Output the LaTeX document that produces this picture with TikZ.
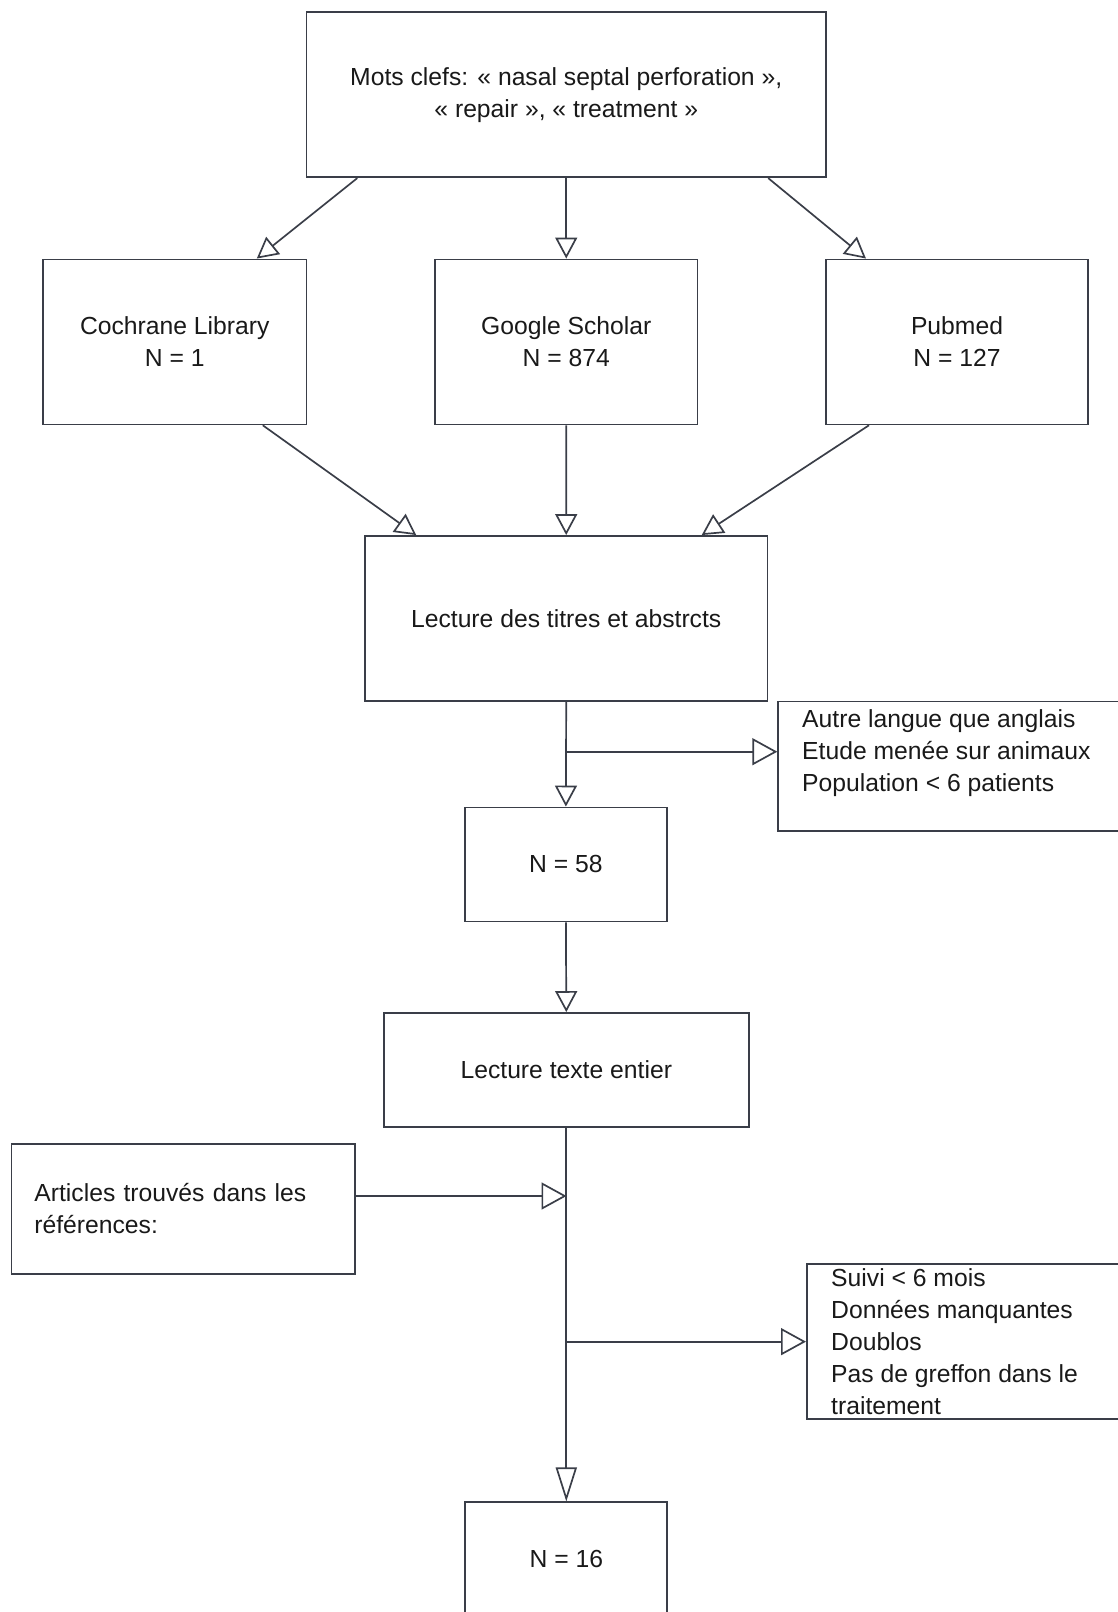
\documentclass[tikz,border=0pt]{standalone}
\usepackage{fontspec}
\setmainfont{Liberation Sans}
\usepackage{tikz}
\usetikzlibrary{positioning,arrows.meta}
\definecolor{linecolor}{RGB}{58,62,72}
\definecolor{textcolor}{RGB}{25,25,25}
\tikzset{
    box/.style={rectangle, draw=linecolor, line width=1.7pt, inner sep=0pt, align=center, text=textcolor, font=\fontsize{24.7pt}{32pt}\selectfont},
    big box/.style={box, minimum height=165pt},
    small box/.style={box, minimum height=114pt},
    list box/.style={box, anchor=north west, minimum width=400pt},
    list text/.style={inner sep=0pt, align=left, text=textcolor, font=\fontsize{24.7pt}{32pt}\selectfont},
    flow arrow/.style={-{Triangle[open, length=21pt, width=22pt]}, line width=1.7pt, draw=linecolor},
    side arrow/.style={-{Triangle[open, length=25pt, width=27pt]}, line width=1.7pt, draw=linecolor},
    long arrow/.style={-{Triangle[open, length=34pt, width=21pt]}, line width=1.7pt, draw=linecolor}
}

\begin{document}
\begin{tikzpicture}[x=1pt, y=-1pt]
    % Page frame
    \path[use as bounding box, clip] (0,0) rectangle (1118,1612);

    % Key words
    \node[big box, minimum width=519.5pt] (keywords) at (566.25,94.8) {Mots clefs: « nasal septal perforation »,\\« repair », « treatment »};

    % Databases
    \node[big box, minimum width=263.5pt] (cochrane) at (174.75,341.9) {Cochrane Library\\N = 1};
    \node[big box, minimum width=262.5pt] (scholar) at (566.25,341.9) {Google Scholar\\N = 874};
    \node[big box, minimum width=262pt] (pubmed) at (957,341.9) {Pubmed\\N = 127};

    % Titles and abstracts
    \node[big box, minimum width=402.4pt] (titles) at (566.2,618.4) {Lecture des titres et abstrcts};
    \node[list box, minimum height=129.5pt] (excl-1) at (777.3,700.5) {};
    \node[list text, below right=8.8pt and 24.7pt of excl-1.north west] (excl-1-text) {Autre langue que anglais\\Etude menée sur animaux\\Population < 6 patients};
    \node[small box, minimum width=201.7pt] (n-58) at (565.9,864.4) {N = 58};

    % Full text
    \node[small box, minimum width=365pt] (fulltext) at (566.3,1069.9) {Lecture texte entier};
    \node[box, align=left, text width=297.6pt, inner xsep=23pt, minimum height=130pt] (refs) at (183.2,1208.7) {Articles trouvés dans les\\références:};
    \node[list box, minimum height=155pt] (excl-2) at (806,1263.3) {};
    \node[list text, below right=4.7pt and 25pt of excl-2.north west] (excl-2-text) {Suivi < 6 mois\\Données manquantes\\Doublos\\Pas de greffon dans le\\traitement};
    \node[small box, minimum width=202pt] (n-16) at (566.3,1559.3) {N = 16};

    % Junctions on the main line
    \coordinate (j-1) at (566.5,751.7);
    \coordinate (j-2) at (566.5,1196);

    % Connections
    \draw[flow arrow] ([xshift=-209pt]keywords.south) -- ([xshift=82pt]cochrane.north);
    \draw[flow arrow] (keywords.south) -- (scholar.north);
    \draw[flow arrow] ([xshift=202pt]keywords.south) -- ([xshift=-91pt]pubmed.north);
    \draw[flow arrow] ([xshift=88pt]cochrane.south) -- ([xshift=-150pt]titles.north);
    \draw[flow arrow] (scholar.south) -- (titles.north);
    \draw[flow arrow] ([xshift=-88pt]pubmed.south) -- ([xshift=135.5pt]titles.north);
    \draw[flow arrow] (titles.south) -- (n-58.north);
    \draw[side arrow] (j-1) -- (j-1 -| excl-1.west);
    \draw[flow arrow] (n-58.south) -- (fulltext.north);
    \draw[long arrow] (fulltext.south) -- (n-16.north);
    \draw[side arrow] (j-2 -| refs.east) -- (j-2);
    \draw[side arrow] (fulltext.south |- excl-2.west) -- (excl-2.west);
\end{tikzpicture}
\end{document}
